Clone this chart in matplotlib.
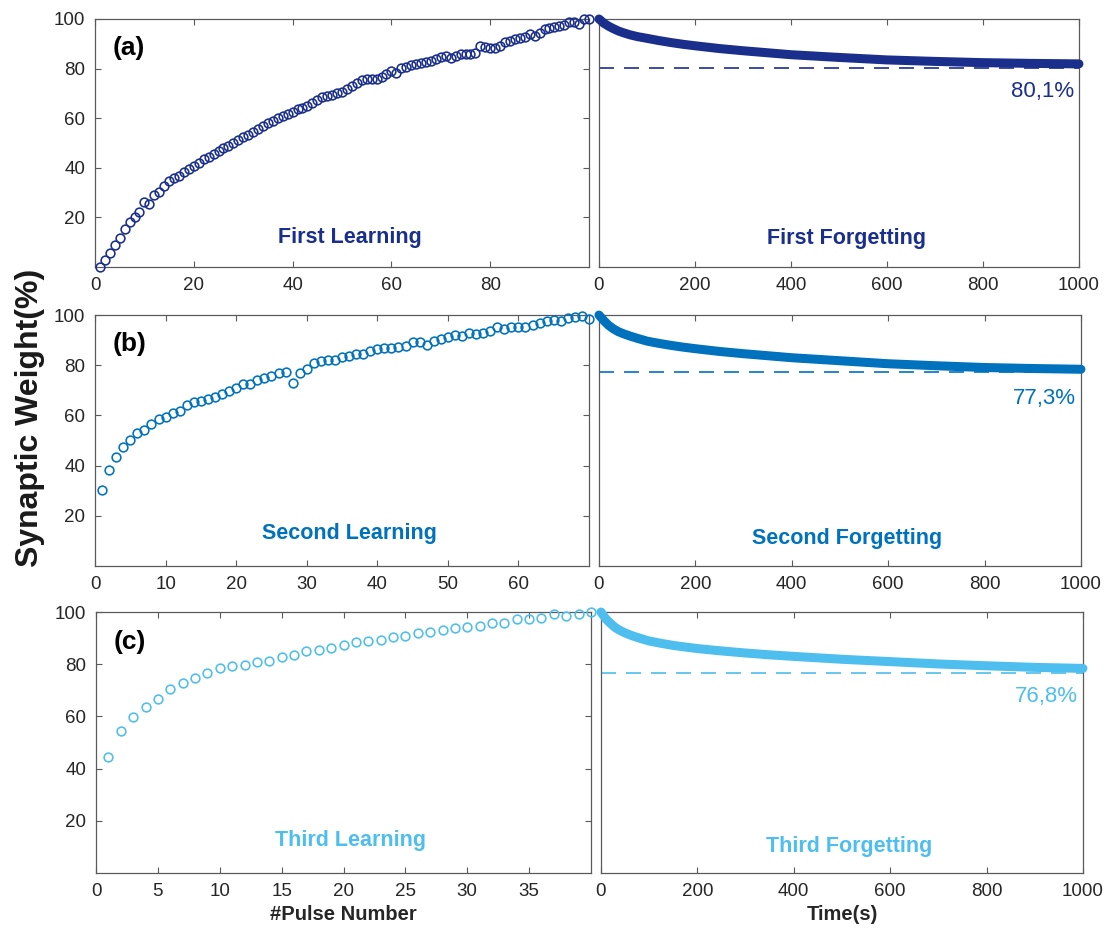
import matplotlib.pyplot as plt

plt.rcParams['font.family'] = ['Liberation Sans', 'DejaVu Sans']

# colours of the three training rounds
c_first = '#1a2e8c'
c_second = '#0072bd'
c_third = '#4dbeee'

# learning phases: synaptic weight (%) per pulse
learn1 = [0.0, 2.8, 5.5, 8.9, 11.8, 15.3, 18.0, 20.3, 22.3, 26.3,
          25.4, 29.0, 30.4, 32.7, 34.8, 35.8, 36.8, 38.2, 39.5, 40.9,
          42.1, 43.4, 44.5, 45.7, 46.8, 47.8, 48.9, 49.9, 51.2, 52.4,
          53.2, 54.3, 55.5, 57.0, 57.9, 58.9, 60.0, 61.0, 61.7, 62.6,
          63.7, 64.2, 65.0, 66.3, 67.2, 68.7, 69.0, 69.4, 70.0, 70.7,
          71.8, 73.1, 74.1, 75.3, 75.8, 75.7, 75.8, 76.7, 77.8, 79.0,
          78.1, 80.1, 80.8, 81.5, 81.9, 82.1, 82.6, 83.2, 83.9, 84.5,
          85.2, 84.4, 85.2, 85.8, 86.0, 85.8, 86.2, 89.2, 88.8, 88.4,
          88.4, 89.2, 90.8, 91.2, 91.9, 92.2, 92.6, 93.8, 93.3, 94.2,
          96.0, 96.5, 96.8, 97.2, 97.6, 98.7, 98.9, 97.9, 99.8, 100.0]
learn2 = [30.3, 38.2, 43.5, 47.5, 50.2, 52.9, 54.2, 56.7, 58.4, 59.5,
          61.1, 61.9, 64.1, 65.5, 65.7, 66.4, 67.5, 68.4, 69.7, 71.0,
          72.5, 72.5, 74.1, 74.9, 75.6, 76.8, 77.4, 73.0, 77.0, 78.4,
          80.8, 81.7, 81.9, 81.9, 83.4, 83.7, 84.3, 84.3, 85.7, 86.3,
          86.7, 86.7, 87.1, 87.8, 89.1, 89.4, 88.0, 89.6, 90.4, 91.1,
          91.9, 91.6, 92.7, 92.3, 92.7, 93.6, 95.3, 94.4, 95.1, 95.1,
          95.2, 95.9, 96.9, 97.6, 98.0, 97.6, 98.7, 99.3, 99.8, 98.4]
learn3 = [44.6, 54.4, 59.9, 63.7, 66.8, 70.5, 72.7, 74.6, 76.6, 78.4,
          79.2, 79.8, 80.7, 81.3, 82.6, 83.5, 85.1, 85.4, 86.1, 87.2,
          88.5, 88.9, 89.1, 90.4, 90.9, 92.0, 92.5, 93.2, 93.8, 94.4,
          94.6, 95.7, 95.9, 97.2, 97.2, 97.7, 99.3, 98.6, 99.2, 100.0]

# forgetting phases: synaptic weight (%) against time (s)
t_forget = [0, 5, 10, 20, 30, 40, 50, 65, 80, 100, 125, 150, 175, 200,
            250, 300, 350, 400, 500, 600, 700, 800, 900, 1000]
forget1 = [100, 99.2, 98.3, 97.1, 96.1, 95.2, 94.5, 93.6, 92.9, 92.2, 91.3, 90.5, 89.8, 89.2,
           88.1, 87.2, 86.4, 85.6, 84.5, 83.5, 82.9, 82.4, 82.1, 81.9]
forget2 = [100, 98.9, 97.8, 95.9, 94.5, 93.4, 92.6, 91.6, 90.7, 89.6, 88.7, 87.9, 87.2, 86.6,
           85.5, 84.6, 83.8, 83.0, 81.8, 80.6, 79.8, 79.1, 78.7, 78.4]
forget3 = [100, 98.7, 97.4, 95.6, 94.0, 92.9, 92.0, 90.9, 90.0, 88.9, 88.0, 87.2, 86.6, 86.0,
           85.1, 84.3, 83.6, 83.0, 81.9, 81.0, 80.1, 79.4, 78.8, 78.4]

# retained weight after each forgetting phase
retained = [80.1, 77.3, 76.8]

tags = ['(a)', '(b)', '(c)']
learn_titles = ['First Learning', 'Second Learning', 'Third Learning']
forget_titles = ['First Forgetting', 'Second Forgetting', 'Third Forgetting']
learn_xmax = [100, 70, 40]
learn_xticks = [[0, 20, 40, 60, 80], [0, 10, 20, 30, 40, 50, 60], [0, 5, 10, 15, 20, 25, 30, 35]]
time_xticks = [0, 200, 400, 600, 800, 1000]
yticks = [20, 40, 60, 80, 100]

learns = [learn1, learn2, learn3]
forgets = [forget1, forget2, forget3]
colors = [c_first, c_second, c_third]

# panel boxes in figure fractions: (left, bottom, width, height)
left_boxes = [(0.0857, 0.7132, 0.4454, 0.2664),
              (0.0857, 0.3920, 0.4454, 0.2696),
              (0.0866, 0.0623, 0.4463, 0.2803)]
right_boxes = [(0.5401, 0.7132, 0.4328, 0.2664),
               (0.5401, 0.3920, 0.4346, 0.2696),
               (0.5419, 0.0623, 0.4346, 0.2803)]
learn_text_y = [0.12, 0.13, 0.123]
forget_text_y = [0.113, 0.11, 0.103]
pct_y = [70.8, 66.9, 67.5]

spine_col = '#5a5a5a'
tick_col = '#262626'

fig = plt.figure(figsize=(11.09, 9.31), dpi=100)


def style_axes(ax):
    for s in ax.spines.values():
        s.set_color(spine_col)
        s.set_linewidth(0.9)
    ax.tick_params(direction='in', length=4.5, width=0.8, color=spine_col,
                   labelsize=13.5, labelcolor=tick_col, pad=7,
                   top=True, right=True)


for i in range(3):
    col = colors[i]

    ax = fig.add_axes(left_boxes[i])
    pulses = list(range(1, len(learns[i]) + 1))
    ax.plot(pulses, learns[i], 'o', mfc='none', mec=col, ms=6.3, mew=1.15, clip_on=False, zorder=3)
    ax.set_xlim(0, learn_xmax[i])
    ax.set_ylim(0, 100)
    ax.set_xticks(learn_xticks[i])
    ax.set_yticks(yticks)
    style_axes(ax)
    ax.text(0.036, 0.885, tags[i], transform=ax.transAxes, fontsize=19, fontweight='bold',
            color='black', ha='left', va='center')
    ax.text(0.515, learn_text_y[i], learn_titles[i], transform=ax.transAxes, fontsize=15.5,
            fontweight='bold', color=col, ha='center', va='center')
    if i == 2:
        ax.set_xlabel('#Pulse Number', fontsize=14.5, fontweight='bold', color='#262626', labelpad=4)

    ax2 = fig.add_axes(right_boxes[i])
    ax2.plot(t_forget, forgets[i], '-', color=col, lw=6.5, solid_capstyle='round',
             solid_joinstyle='round', clip_on=False, zorder=3)
    ax2.axhline(retained[i], color=col, lw=1.2, ls=(0, (9, 6)), zorder=2)
    ax2.set_xlim(0, 1000)
    ax2.set_ylim(0, 100)
    ax2.set_xticks(time_xticks)
    ax2.set_yticks([])
    style_axes(ax2)
    ax2.text(0.515, forget_text_y[i], forget_titles[i], transform=ax2.transAxes, fontsize=15.5,
             fontweight='bold', color=col, ha='center', va='center')
    ax2.text(0.99, pct_y[i], ('%.1f%%' % retained[i]).replace('.', ','),
             transform=ax2.get_yaxis_transform(), fontsize=16, color=col, ha='right', va='center')
    if i == 2:
        ax2.set_xlabel('Time(s)', fontsize=14.5, fontweight='bold', color='#262626', labelpad=4)

fig.text(0.027, 0.551, 'Synaptic Weight(%)', rotation=90, fontsize=23, fontweight='bold',
         color='#1a1a1a', ha='center', va='center')

fig.savefig('out.png', dpi=100)
